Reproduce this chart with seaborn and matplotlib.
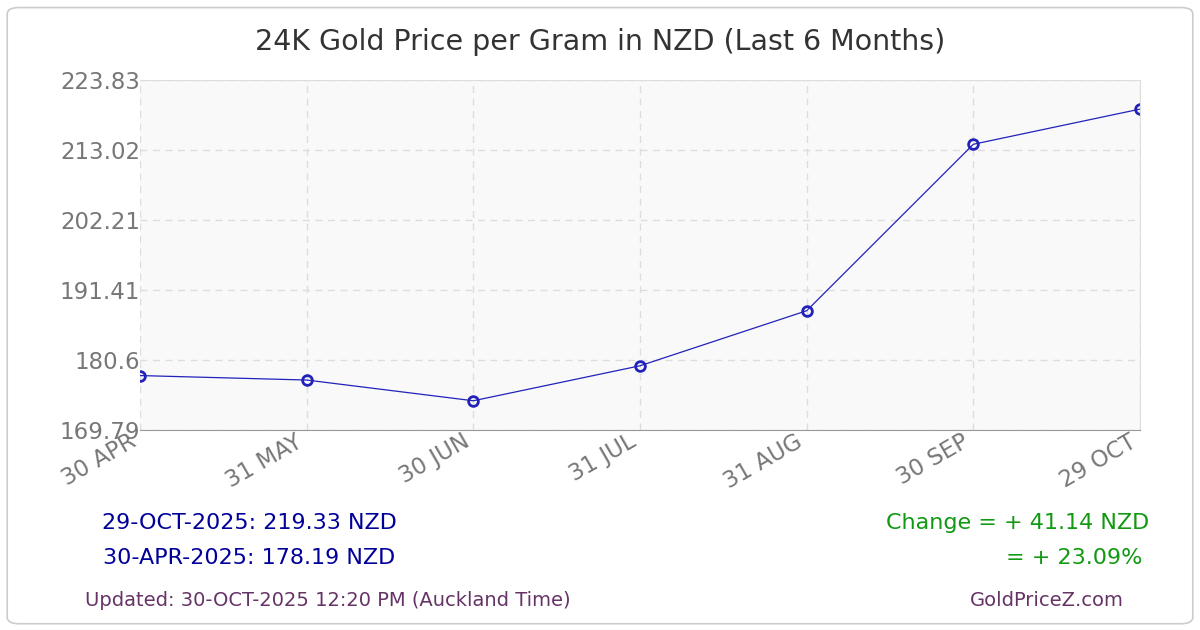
import matplotlib
matplotlib.use("Agg")
import matplotlib.pyplot as plt
import seaborn as sns
import pandas as pd
from matplotlib.patches import FancyBboxPatch

dates = ["30 APR", "31 MAY", "30 JUN", "31 JUL", "31 AUG", "30 SEP", "29 OCT"]
prices = [178.19, 177.5, 174.3, 179.7, 188.2, 213.9, 219.33]
yticks = [169.79, 180.6, 191.41, 202.21, 213.02, 223.83]

sns.set_style("white")
plt.rcParams['font.family'] = ['DejaVu Sans']
fig = plt.figure(figsize=(12, 6.3), dpi=100)
fig.patches.append(FancyBboxPatch((0.006, 0.01), 0.988, 0.978, boxstyle="round,pad=0,rounding_size=0.01",
                                  transform=fig.transFigure, fill=False, ec="#cccccc", lw=1.2))
ax = fig.add_axes([0.1167, 0.3175, 0.8333, 0.5556])
ax.set_facecolor("#f9f9f9")
df = pd.DataFrame({"x": range(len(dates)), "y": prices})
sns.lineplot(data=df, x="x", y="y", ax=ax, color="#2222bb", lw=0.9, marker="o",
             markersize=7, markerfacecolor="none", markeredgecolor="#2222bb", markeredgewidth=2)
ax.set_xlim(0, len(dates) - 1)
ax.set_ylim(yticks[0], yticks[-1])
ax.set_yticks(yticks)
ax.set_yticklabels([f"{v:g}" for v in yticks], fontsize=16.5, color="#777777")
ax.set_xticks(range(len(dates)))
ax.set_xticklabels(dates, rotation=30, ha="right", fontsize=16.5, color="#777777")
ax.tick_params(axis="both", length=0, pad=0)
ax.grid(True, ls=(0, (5, 4)), color="#dddddd", lw=1)
ax.set_xlabel(""); ax.set_ylabel("")
for s in ["top", "right"]:
    ax.spines[s].set_color("#dddddd")
ax.spines["left"].set_visible(False)
ax.spines["bottom"].set_color("#999999")
fig.text(0.5, 0.92, "24K Gold Price per Gram in NZD (Last 6 Months)", ha="center", fontsize=20.5, color="#333333")
fig.text(0.208, 0.16, "29-OCT-2025: 219.33 NZD", ha="center", fontsize=16, color="#000099")
fig.text(0.208, 0.105, "30-APR-2025: 178.19 NZD", ha="center", fontsize=16, color="#000099")
fig.text(0.958, 0.16, "Change = + 41.14 NZD", ha="right", fontsize=16, color="#119911")
fig.text(0.952, 0.105, "= + 23.09%", ha="right", fontsize=16, color="#119911")
fig.text(0.071, 0.038, "Updated: 30-OCT-2025 12:20 PM (Auckland Time)", fontsize=14, color="#663366")
fig.text(0.808, 0.038, "GoldPriceZ.com", fontsize=14, color="#663366")
fig.savefig("out.png", dpi=100)
